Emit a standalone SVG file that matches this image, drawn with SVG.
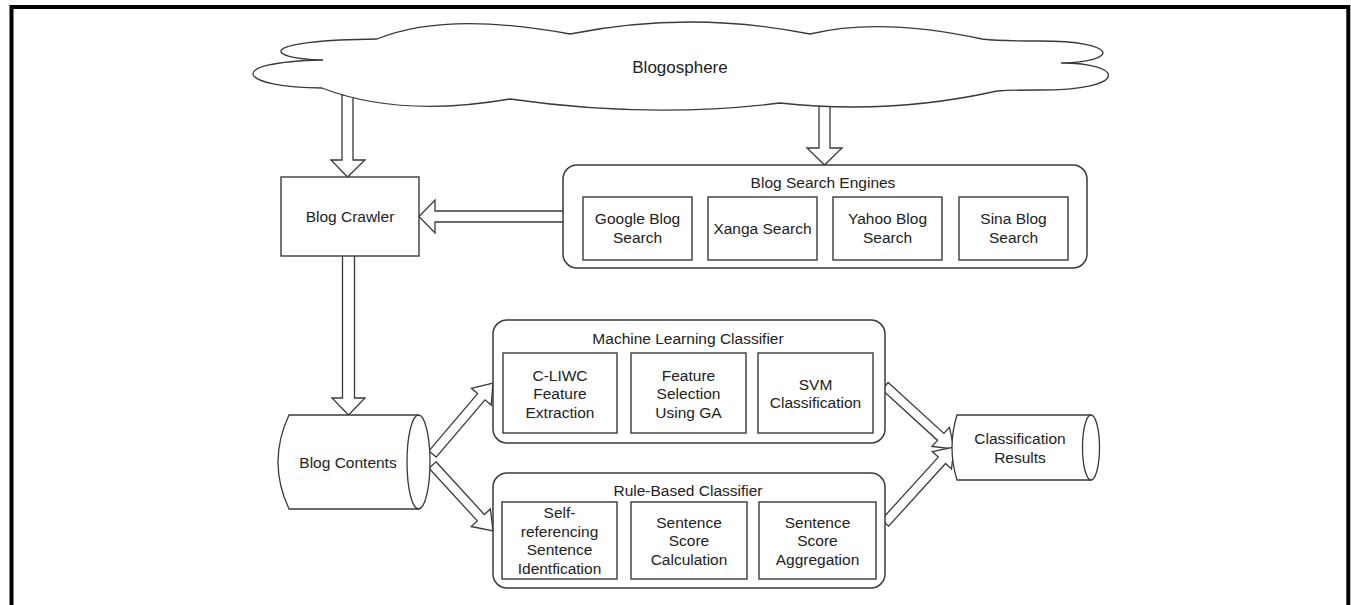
<svg xmlns="http://www.w3.org/2000/svg" width="1351" height="605" viewBox="0 0 1351 605">
<style>
.ln{fill:#fff;stroke:#3a3a3a;stroke-width:1.3;stroke-linejoin:miter}
.ct{fill:#fff;stroke:#3a3a3a;stroke-width:1.5}
.bx{fill:#fff;stroke:#3a3a3a;stroke-width:1.4}
.ar{fill:#fff;stroke:#3a3a3a;stroke-width:1.3;stroke-linejoin:miter}
text{font-family:"Liberation Sans",Arial,sans-serif;font-size:15.5px;fill:#222;text-anchor:middle}
.big{font-size:17px}
</style>
<rect x="0" y="0" width="1351" height="605" fill="#fff"/>
<rect x="11.5" y="7" width="1336.8" height="620" fill="none" stroke="#000" stroke-width="4"/>

<g id="connectors">
  <polygon class="ar" points="342,95 353,95 353,160 365,160 347.5,177 331,160 342,160"/>
  <polygon class="ar" points="819,100 830,100 830,148 842,148 824.5,165 807,148 819,148"/>
  <polygon class="ar" points="565,211 435,211 435,200 419,216.5 435,233 435,222 565,222"/>
  <polygon class="ar" points="342.5,255 354.5,255 354.5,398 365,398 348.5,415 332,398 342.5,398"/>
  <polygon class="ar" points="428.9,450.9 477.6,393.6 471.4,388.3 493,383 491.2,405.1 485,399.8 436.2,457.1"/>
  <polygon class="ar" points="436,461.8 484.3,514.5 490.4,508.9 493,531 471.2,526.5 477.3,520.9 429,468.2"/>
  <polygon class="ar" points="888.2,382.5 943.9,433.4 949.5,427.3 954,449 931.9,446.5 937.5,440.4 881.8,389.5"/>
  <polygon class="ar" points="881.4,519.8 938.3,457.1 932.3,451.6 954,447 951.5,469 945.5,463.5 888.6,526.2"/>
</g>

<g id="blogosphere">
  <path class="ln" d="M377,39 Q446,11 570,34 Q690,10 810,34 Q880,17 982,39 Q1000,41 1040,41 C1120,41 1120,62 1061,63 C1125,63 1130,90 1040,90 Q1015,90 997,91 Q890,115 780,103 Q650,119 510,99 Q400,118 322,88 C240,88 220,62 323,60 C260,58 260,40 377,39 Z"/>
  <text class="big" x="680" y="73">Blogosphere</text>
</g>

<g id="blog-crawler">
  <rect class="bx" x="281" y="177" width="138" height="79"/>
  <text x="350" y="221.5">Blog Crawler</text>
</g>

<g id="blog-search-engines">
  <rect class="ct" x="563" y="165" width="524" height="103" rx="14"/>
  <text x="823" y="187.5">Blog Search Engines</text>
  <g id="google-blog-search">
    <rect class="bx" x="583" y="197" width="109" height="63"/>
    <text x="637.5" y="223.5">Google Blog</text>
    <text x="637.5" y="242.5">Search</text>
  </g>
  <g id="xanga-search">
    <rect class="bx" x="708" y="197" width="109" height="63"/>
    <text x="762.5" y="233.5">Xanga Search</text>
  </g>
  <g id="yahoo-blog-search">
    <rect class="bx" x="833" y="197" width="109" height="63"/>
    <text x="887.5" y="223.5">Yahoo Blog</text>
    <text x="887.5" y="242.5">Search</text>
  </g>
  <g id="sina-blog-search">
    <rect class="bx" x="959" y="197" width="109" height="63"/>
    <text x="1013.5" y="223.5">Sina Blog</text>
    <text x="1013.5" y="242.5">Search</text>
  </g>
</g>

<g id="blog-contents">
  <path class="ln" d="M418.5,415 L289,415 Q267,462 289,509 L418.5,509 Z"/>
  <ellipse class="ln" cx="418.5" cy="462" rx="11.5" ry="47"/>
  <text x="348" y="467.5">Blog Contents</text>
</g>

<g id="machine-learning-classifier">
  <rect class="ct" x="493" y="320" width="392" height="123" rx="14"/>
  <text x="688" y="343.5">Machine Learning Classifier</text>
  <g id="cliwc">
    <rect class="bx" x="503" y="353" width="114" height="80"/>
    <text x="560" y="380.5">C-LIWC</text>
    <text x="560" y="399">Feature</text>
    <text x="560" y="417.5">Extraction</text>
  </g>
  <g id="feature-selection">
    <rect class="bx" x="631" y="353" width="115" height="80"/>
    <text x="688.5" y="380.5">Feature</text>
    <text x="688.5" y="399">Selection</text>
    <text x="688.5" y="417.5">Using GA</text>
  </g>
  <g id="svm">
    <rect class="bx" x="758" y="353" width="115" height="80"/>
    <text x="815.5" y="389.5">SVM</text>
    <text x="815.5" y="407.5">Classification</text>
  </g>
</g>

<g id="rule-based-classifier">
  <rect class="ct" x="493" y="473" width="392" height="115" rx="14"/>
  <text x="688" y="495.5">Rule-Based Classifier</text>
  <g id="self-referencing">
    <rect class="bx" x="502" y="502" width="115" height="77"/>
    <text x="559.5" y="517.5">Self-</text>
    <text x="559.5" y="536.5">referencing</text>
    <text x="559.5" y="555">Sentence</text>
    <text x="559.5" y="573.5">Identfication</text>
  </g>
  <g id="score-calculation">
    <rect class="bx" x="631" y="502" width="116" height="77"/>
    <text x="689" y="527.5">Sentence</text>
    <text x="689" y="546">Score</text>
    <text x="689" y="564.5">Calculation</text>
  </g>
  <g id="score-aggregation">
    <rect class="bx" x="759" y="502" width="117" height="77"/>
    <text x="817.5" y="527.5">Sentence</text>
    <text x="817.5" y="546">Score</text>
    <text x="817.5" y="564.5">Aggregation</text>
  </g>
</g>

<g id="classification-results">
  <path class="ln" d="M1091,415 L957,415 Q947,447.5 957,480 L1091,480 Z"/>
  <ellipse class="ln" cx="1091" cy="447.5" rx="8.5" ry="32.5"/>
  <text x="1020" y="443.5">Classification</text>
  <text x="1020" y="462.5">Results</text>
</g>
</svg>
